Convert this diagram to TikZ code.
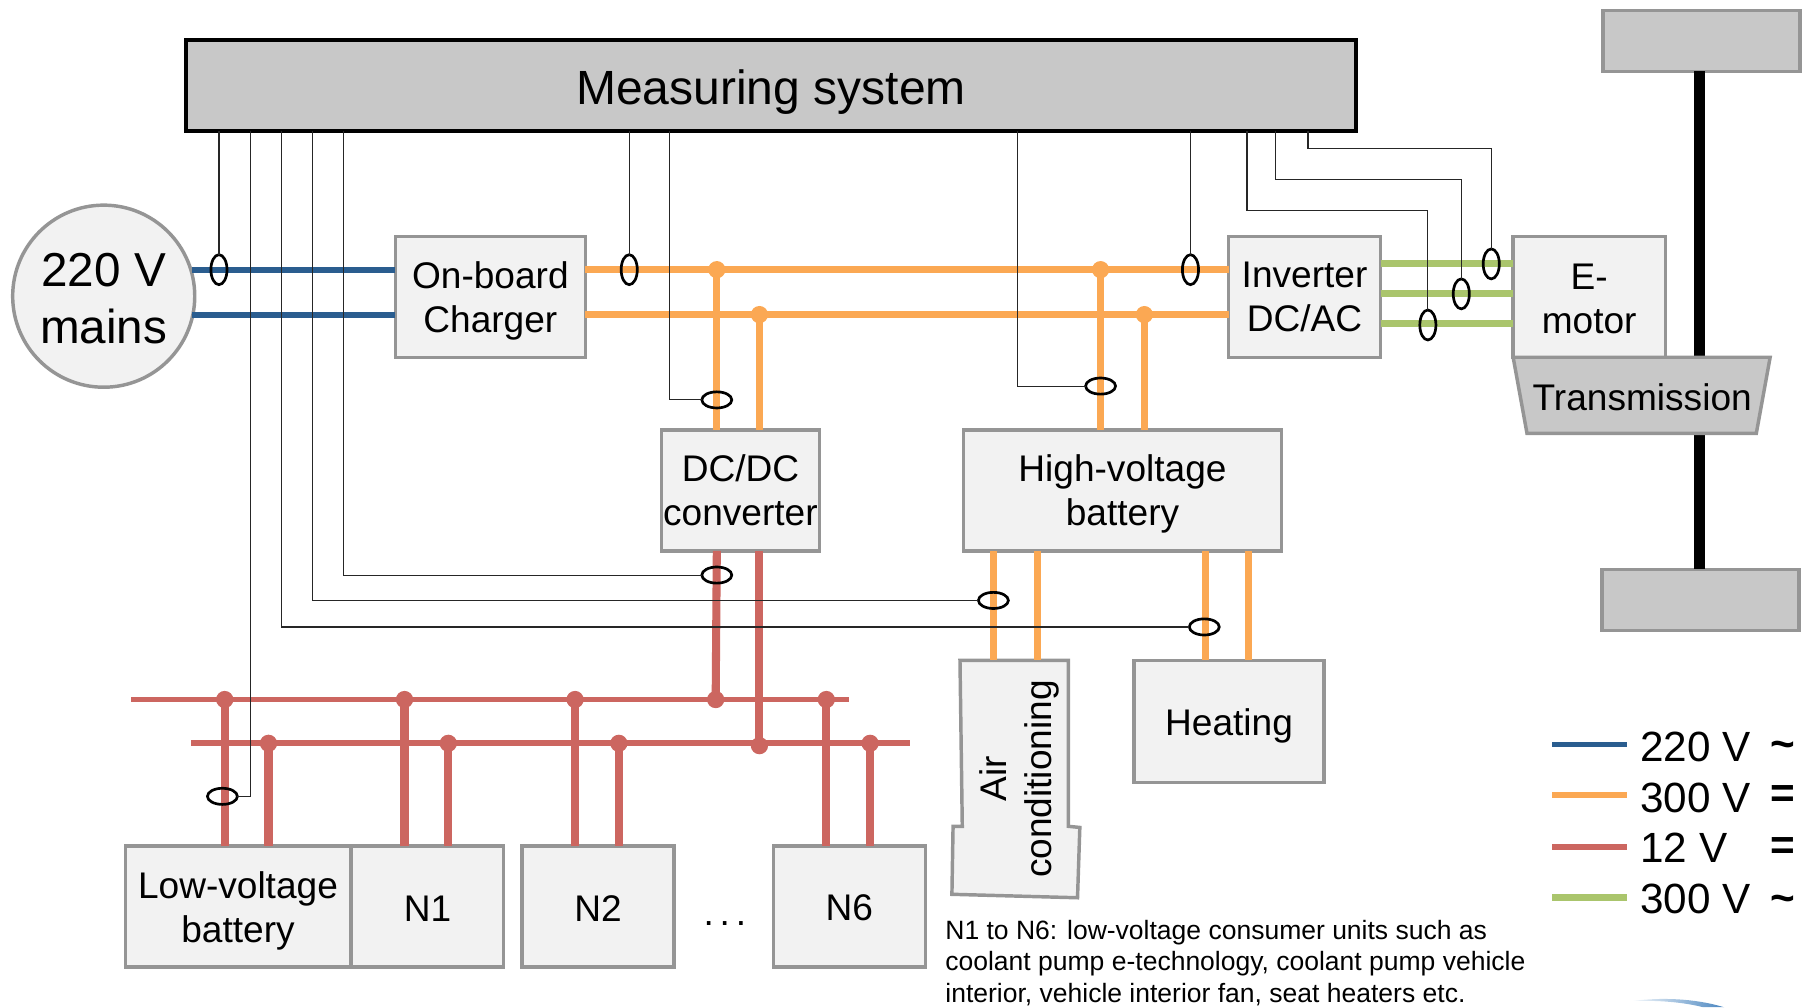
\documentclass[tikz,border=0pt]{standalone}
\usepackage{fontspec}
\setmainfont{Liberation Sans}
\usetikzlibrary{shapes.geometric}
\definecolor{wblue}{HTML}{2A5D8F}
\definecolor{worange}{HTML}{FBA853}
\definecolor{wred}{HTML}{CC6660}
\definecolor{wgreen}{HTML}{AAC56C}
\definecolor{boxfill}{HTML}{F2F2F2}
\definecolor{boxline}{HTML}{959595}
\definecolor{greyfill}{HTML}{C8C8C8}
\definecolor{logoblue}{HTML}{4A86C0}
% pushes the text of a node down by #1, by making its first line taller
\newcommand{\tdn}[1]{\rule{0pt}{\dimexpr 0.73em+2\dimexpr #1\relax\relax}}
\tikzset{
  wh/.style 2 args={minimum width=#1*0.6pt,minimum height=#2*0.6pt},
  boxbase/.style={draw=boxline,line width=1.8pt,inner sep=0pt,outer sep=0pt,anchor=north west,align=center,text=black,font=\fontsize{19.3}{22.8}\selectfont},
  lightbox/.style={boxbase,fill=boxfill},
  greybox/.style={boxbase,fill=greyfill},
  bluew/.style={wblue,line width=3pt},
  orangew/.style={worange,line width=3.6pt},
  orangeb/.style={worange,line width=3.6pt},
  redbus/.style={wred,line width=3pt},
  redw/.style={wred,line width=4.2pt},
  greenw/.style={wgreen,line width=3.6pt},
  thinw/.style={black!85,line width=0.6pt},
  sensv/.style={ellipse,draw=black,line width=1.4pt,minimum width=8.4pt,minimum height=15.6pt,inner sep=0pt,outer sep=0pt},
  sensh/.style={ellipse,draw=black,line width=1.4pt,minimum width=15.6pt,minimum height=8.4pt,inner sep=0pt,outer sep=0pt},
  dotw/.style={circle,fill=worange,inner sep=0pt,minimum size=9pt},
  dotr/.style={circle,fill=wred,inner sep=0pt,minimum size=9pt},
  legtext/.style={anchor=west,inner sep=0pt,font=\fontsize{22}{24}\selectfont},
  legsym/.style={anchor=center,inner sep=0pt,font=\fontsize{22}{24}\selectfont\bfseries},
}
\begin{document}
\begin{tikzpicture}[x=0.6pt,y=-0.6pt]
\useasboundingbox (0,0) rectangle (1568,874);

% junction and tap coordinates
\coordinate (jo1) at (622,234);
\coordinate (jo2) at (659,273);
\coordinate (jo3) at (955,234);
\coordinate (jo4) at (993,273);
\coordinate (jr1) at (621,607);
\coordinate (jr2) at (659,647);
\coordinate (b1w) at (114,607);
\coordinate (b1e) at (737,607);
\coordinate (b2w) at (166,645);
\coordinate (b2e) at (790,645);
\coordinate (d1) at (195,607);
\coordinate (d2) at (233,645);
\coordinate (d3) at (351,607);
\coordinate (d4) at (389,645);
\coordinate (d5) at (499,607);
\coordinate (d6) at (537,645);
\coordinate (d7) at (717,607);
\coordinate (d8) at (755,645);
\coordinate (g1) at (1198,229);
\coordinate (g2) at (1198,255);
\coordinate (g3) at (1198,281);
\coordinate (h1) at (862,478);
\coordinate (h2) at (900,478);
\coordinate (h3) at (1046,478);
\coordinate (h4) at (1083,478);

% axle
\node[greybox,wh={171}{53}] (wheelt) at (1391,9) {};
\node[greybox,wh={171}{53}] (wheelb) at (1390,494) {};
\draw[black,line width=5.6pt] (1475,62) coordinate (axt) -- (1475,494) coordinate (axb);

% boxes
\node[lightbox,wh={165}{105}] (charger) at (343,205) {\tdn{2.1pt}On-board\\Charger};
\node[lightbox,wh={132}{105}] (inv) at (1066,205) {Inverter\\DC/AC};
\node[lightbox,wh={132}{105}] (emotor) at (1313,205) {\tdn{0.6pt}E-\\motor};
\node[lightbox,wh={137}{105}] (dcdc) at (574,373) {DC/DC\\converter};
\node[lightbox,wh={276}{105}] (hv) at (836,373) {\tdn{1.8pt}High-voltage\\battery};
\node[lightbox,wh={165}{106}] (heat) at (984,573) {\tdn{2.4pt}Heating};
\node[lightbox,wh={195}{105}] (lv) at (109,734) {\tdn{2.4pt}Low-voltage\\battery};
\node[lightbox,wh={132}{105}] (n1) at (305,734) {\tdn{0.6pt}N1};
\node[lightbox,wh={132}{105}] (n2) at (453,734) {\tdn{0.6pt}N2};
\node[lightbox,wh={132}{105}] (n6) at (671,734) {\tdn{0.6pt}N6};
\node[inner sep=0pt,font=\fontsize{19.3}{22.8}\selectfont] (dots) at (629,801) {.\kern.157em.\kern.157em.};
\node[circle,draw=boxline,fill=boxfill,line width=1.8pt,inner sep=0pt,outer sep=0pt,minimum size=158*0.6pt,align=center,font=\fontsize{24.8}{29.5}\selectfont] (mains) at (90,257) {\tdn{1.0pt}220 V\\mains};
\node[draw=black,fill=greyfill,line width=2.1pt,inner sep=0pt,outer sep=0pt,anchor=north west,wh={1016}{79},align=center,font=\fontsize{25}{30}\selectfont] (meas) at (161,35) {\tdn{3.4pt}Measuring system};

% transmission
\draw[draw=boxline,fill=greyfill,line width=1.8pt] (1313,310) -- (1536,310) -- (1524,376) -- (1325,376) -- cycle;
\node[inner sep=0pt,font=\fontsize{19.3}{22.8}\selectfont] (trans) at (1425,345) {Transmission};

% air conditioning
\draw[draw=boxline,fill=boxfill,line width=1.8pt] (833,573) -- (927,573) -- (927,717) -- (937,718) -- (935,779) -- (826,776) -- (827,717) -- (835,717) -- cycle;
\node[rotate=90,inner sep=0pt,align=center,font=\fontsize{19.3}{23.5}\selectfont] (ac) at (884.5,676) {Air\\conditioning};
\coordinate (actop) at (880,573);

% mains wiring
\draw[bluew] (mains.east |- jo1) ++(-2,0) -- (charger.west |- jo1);
\draw[bluew] (mains.east |- jo2) ++(-2,0) -- (charger.west |- jo2);

% high voltage wiring
\draw[orangew] (charger.east |- jo1) -- (inv.west |- jo1);
\draw[orangew] (charger.east |- jo2) -- (inv.west |- jo2);
\draw[orangeb] (jo1) -- (jo1 |- dcdc.north);
\draw[orangeb] (jo2) -- (jo2 |- dcdc.north);
\draw[orangeb] (jo3) -- (jo3 |- hv.north);
\draw[orangeb] (jo4) -- (jo4 |- hv.north);
\draw[orangeb] (h1) -- (h1 |- actop);
\draw[orangeb] (h2) -- (h2 |- actop);
\draw[orangeb] (h3) -- (h3 |- heat.north);
\draw[orangeb] (h4) -- (h4 |- heat.north);
\node[dotw] (dj1) at (jo1) {};
\node[dotw] (dj2) at (jo2) {};
\node[dotw] (dj3) at (jo3) {};
\node[dotw] (dj4) at (jo4) {};

% motor wiring
\draw[greenw] (g1) -- (emotor.west |- g1);
\draw[greenw] (g2) -- (emotor.west |- g2);
\draw[greenw] (g3) -- (emotor.west |- g3);

% low voltage wiring
\draw[redbus] (b1w) -- (b1e);
\draw[redbus] (b2w) -- (b2e);
\draw[redw] (dcdc.south -| jo1) -- (jr1);
\draw[redw] (dcdc.south -| jo2) -- (jr2);
\draw[redw] (d1) -- (d1 |- lv.north);
\draw[redw] (d2) -- (d2 |- lv.north);
\draw[redw] (d3) -- (d3 |- n1.north);
\draw[redw] (d4) -- (d4 |- n1.north);
\draw[redw] (d5) -- (d5 |- n2.north);
\draw[redw] (d6) -- (d6 |- n2.north);
\draw[redw] (d7) -- (d7 |- n6.north);
\draw[redw] (d8) -- (d8 |- n6.north);
\foreach \p in {jr1,jr2,d1,d2,d3,d4,d5,d6,d7,d8} \node[dotr] at (\p) {};

% current sensors
\node[sensv] (s1) at (190,234) {};
\node[sensv] (s2) at (546,234) {};
\node[sensv] (s3) at (1033,234) {};
\node[sensv] (s4) at (1239,282) {};
\node[sensv] (s5) at (1268,255) {};
\node[sensv] (s6) at (1294,229) {};
\node[sensh] (s7) at (622,347) {};
\node[sensh] (s8) at (955,335) {};
\node[sensh] (s9) at (622,499) {};
\node[sensh] (s10) at (862,521) {};
\node[sensh] (s11) at (1045,544) {};
\node[sensh] (s12) at (193,691) {};

% measuring lines
\draw[thinw] (s1 |- meas.south) -- (s1.north);
\draw[thinw] (s2 |- meas.south) -- (s2.north);
\draw[thinw] (s3 |- meas.south) -- (s3.north);
\draw[thinw] (217,114) coordinate (m12) |- (s12.east);
\draw[thinw] (244,114) coordinate (m11) |- (s11.west);
\draw[thinw] (271,114) coordinate (m10) |- (s10.west);
\draw[thinw] (298,114) coordinate (m9) |- (s9.west);
\draw[thinw] (581,114) coordinate (m7) |- (s7.west);
\draw[thinw] (883,114) coordinate (m8) |- (s8.west);
\draw[thinw] (1082,114) coordinate (m4) |- (1239,183) -- (s4.north);
\draw[thinw] (1107,114) coordinate (m5) |- (1268,156) -- (s5.north);
\draw[thinw] (1135,114) coordinate (m6) |- (1294,129) -- (s6.north);

% legend
\draw[bluew] (1347,646) coordinate (l1) -- (1412,646);
\draw[worange,line width=3.4pt] (1347,690) coordinate (l2) -- (1412,690);
\draw[redbus] (1347,735) coordinate (l3) -- (1412,735);
\draw[wgreen,line width=3.4pt] (1347,779) coordinate (l4) -- (1412,779);
\node[legtext] (t1) at (1423,648) {220 V};
\node[legtext] (t2) at (1423,692) {300 V};
\node[legtext] (t3) at (1423,736) {12 V};
\node[legtext] (t4) at (1423,780) {300 V};
\node[legsym] (y1) at (1547,651) {\char`~};
\node[legsym] (y2) at (1547,691.5) {=};
\node[legsym] (y3) at (1547,736) {=};
\node[legsym] (y4) at (1547,784) {\char`~};

% caption
\node[anchor=north west,inner sep=0pt,align=left,font=\fontsize{13.8}{16.5}\selectfont] (cap) at (820,798) {N1 to N6: low-voltage consumer units such as\\coolant pump e-technology, coolant pump vehicle\\interior, vehicle interior fan, seat heaters etc.};

% edge of a logo at the bottom
\shade[left color=logoblue!5,right color=logoblue] (1417,868.5) .. controls (1440,865.5) and (1470,866) .. (1496,874) -- (1478,874) .. controls (1460,869.5) and (1440,868) .. (1417,868.5) -- cycle;
\end{tikzpicture}
\end{document}
